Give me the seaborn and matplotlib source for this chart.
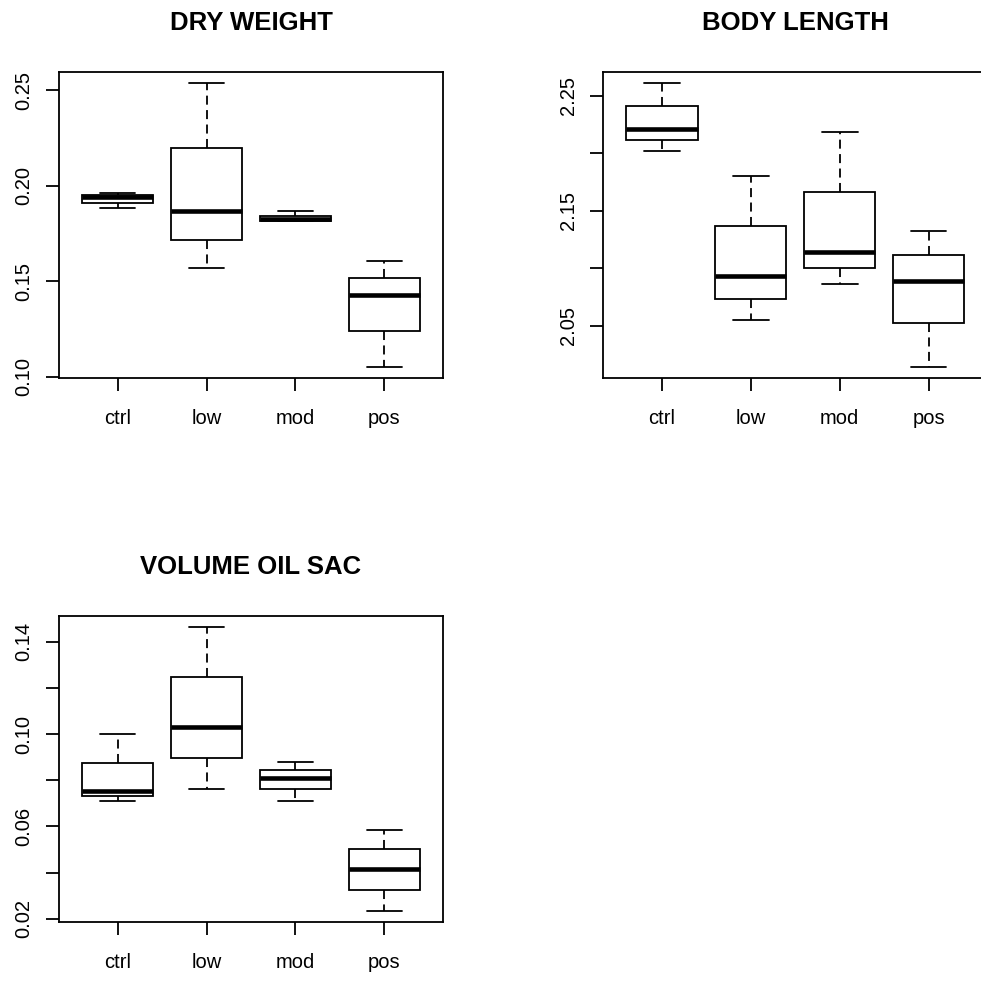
import numpy as np
import pandas as pd
import matplotlib
matplotlib.use("Agg")
import matplotlib.pyplot as plt
import seaborn as sns

# five-number summaries (min, Q1, median, Q3, max)
groups = ["ctrl", "low", "mod", "pos"]

dry_weight = [
    [0.1883, 0.1907, 0.1939, 0.1950, 0.1960],
    [0.1569, 0.1714, 0.1867, 0.2195, 0.2535],
    [0.1813, 0.1815, 0.1827, 0.1843, 0.1867],
    [0.1053, 0.1240, 0.1426, 0.1518, 0.1604],
]
body_length = [
    [2.2022, 2.2117, 2.2216, 2.2413, 2.2610],
    [2.0555, 2.0738, 2.0935, 2.1372, 2.1807],
    [2.0862, 2.1004, 2.1143, 2.1665, 2.2190],
    [2.0146, 2.0526, 2.0894, 2.1117, 2.1329],
]
volume_oil_sac = [
    [0.0712, 0.0731, 0.0752, 0.0873, 0.1000],
    [0.0760, 0.0894, 0.1029, 0.1245, 0.1463],
    [0.0712, 0.0760, 0.0810, 0.0845, 0.0880],
    [0.0234, 0.0325, 0.0417, 0.0503, 0.0586],
]

dry_ticks = [0.10, 0.15, 0.20, 0.25]
dry_labels = ["0.10", "0.15", "0.20", "0.25"]
body_ticks = [2.05, 2.10, 2.15, 2.20, 2.25]
body_labels = ["2.05", "", "2.15", "", "2.25"]
vol_ticks = [0.02, 0.04, 0.06, 0.08, 0.10, 0.12, 0.14]
vol_labels = ["0.02", "", "0.06", "", "0.10", "", "0.14"]

sns.set_style("white")
plt.rcParams["font.family"] = ["Liberation Sans", "DejaVu Sans"]

LW = 1.3


def to_long(values):
    rows = []
    for g, vals in zip(groups, values):
        for v in vals:
            rows.append({"group": g, "value": v})
    return pd.DataFrame(rows)


def r_boxplot(ax, values, title, ticks, labels):
    df = to_long(values)
    sns.boxplot(
        data=df, x="group", y="value", order=groups, ax=ax,
        whis=np.inf, width=0.8, color="white", linecolor="black",
        linewidth=LW, fill=True, saturation=1,
        boxprops=dict(facecolor="white", edgecolor="black", linewidth=LW),
        medianprops=dict(color="black", linewidth=3.3, solid_capstyle="butt"),
        whiskerprops=dict(color="black", linewidth=LW, linestyle=(0, (5.0, 3.0))),
        capprops=dict(color="black", linewidth=LW),
    )
    lo, hi = df["value"].min(), df["value"].max()
    pad = 0.04 * (hi - lo)
    ax.set_ylim(lo - pad, hi + pad)
    ax.set_xlim(-0.66, 3.66)
    ax.set_yticks(ticks)
    ax.set_yticklabels(labels, rotation=90, va="center")
    ax.set_xlabel("")
    ax.set_ylabel("")
    ax.set_title(title, fontsize=18.5, fontweight="bold", pad=30, color="black")
    for s in ax.spines.values():
        s.set_visible(True)
        s.set_color("black")
        s.set_linewidth(LW)
    ax.tick_params(axis="both", which="both", direction="out", length=9.4,
                   width=LW, color="black", labelsize=14.5, labelcolor="black")
    ax.tick_params(axis="x", pad=13, bottom=True)
    ax.tick_params(axis="y", pad=9, left=True)


fig = plt.figure(figsize=(9.81, 9.81), dpi=100)
ax1 = fig.add_axes([59 / 981, 1 - 378 / 981, 384 / 981, 306 / 981])
ax2 = fig.add_axes([603.3 / 981, 1 - 378 / 981, 384 / 981, 306 / 981])
ax3 = fig.add_axes([59 / 981, 1 - 922.3 / 981, 384 / 981, 306.6 / 981])

r_boxplot(ax1, dry_weight, "DRY WEIGHT", dry_ticks, dry_labels)
r_boxplot(ax2, body_length, "BODY LENGTH", body_ticks, body_labels)
r_boxplot(ax3, volume_oil_sac, "VOLUME OIL SAC", vol_ticks, vol_labels)

fig.savefig("out.png", dpi=100, facecolor="white")
